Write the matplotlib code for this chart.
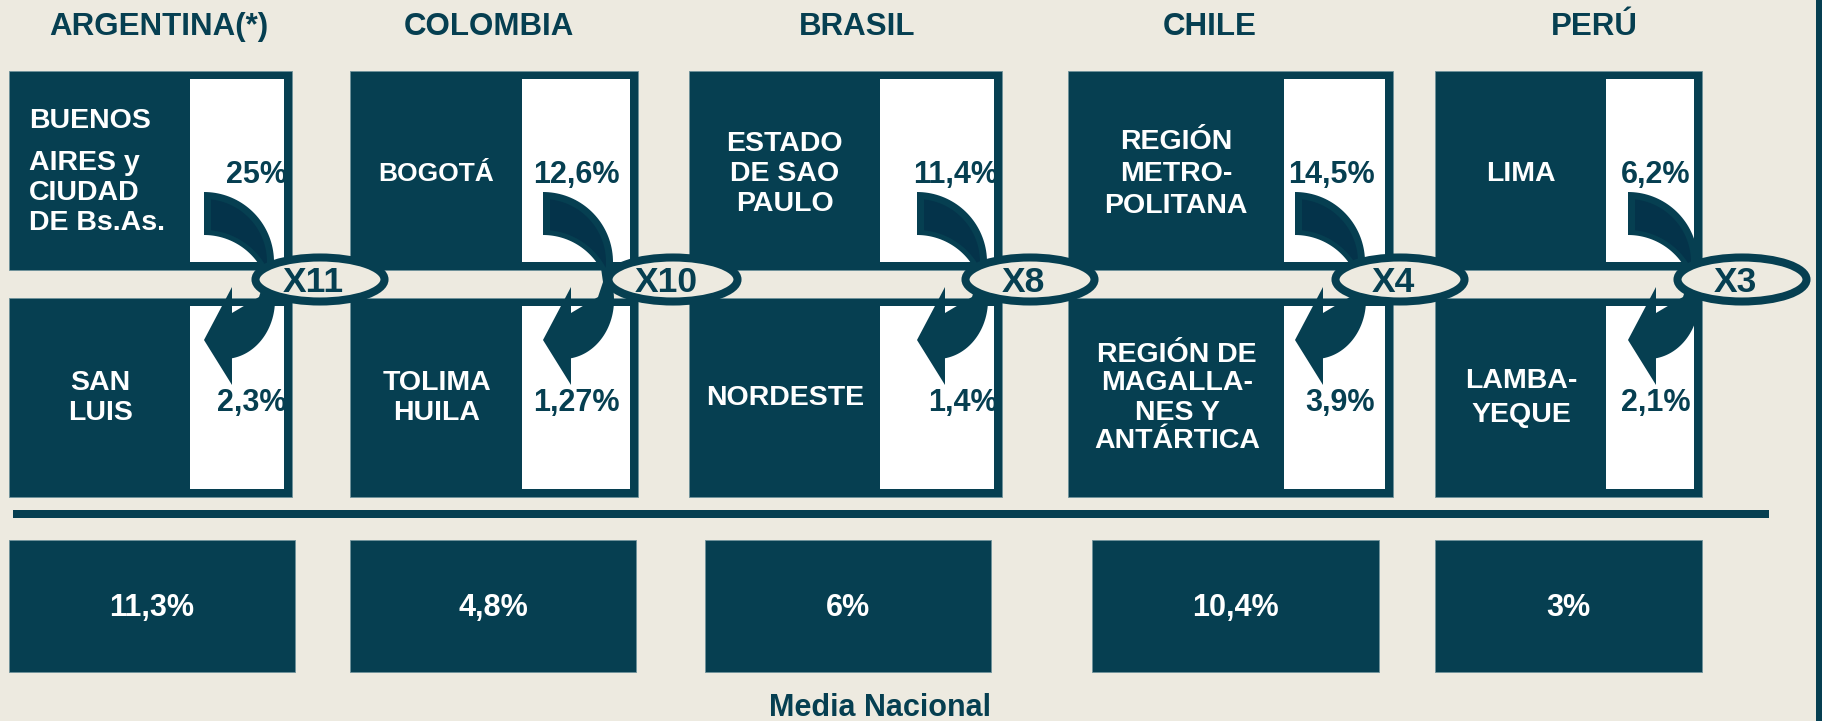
import matplotlib.pyplot as plt
from matplotlib.patches import Rectangle, Ellipse, Polygon
import numpy as np

plt.rcParams['font.family'] = ['Liberation Sans', 'DejaVu Sans']

# data
countries = ['ARGENTINA(*)', 'COLOMBIA', 'BRASIL', 'CHILE', 'PERÚ']
top_regions = ['BUENOS\nAIRES y\nCIUDAD\nDE Bs.As.', 'BOGOTÁ', 'ESTADO\nDE SAO\nPAULO',
               'REGIÓN\nMETRO-\nPOLITANA', 'LIMA']
bottom_regions = ['SAN\nLUIS', 'TOLIMA\nHUILA', 'NORDESTE',
                  'REGIÓN DE\nMAGALLA-\nNES Y\nANTÁRTICA', 'LAMBA-\nYEQUE']
top_values = [25, 12.6, 11.4, 14.5, 6.2]
bottom_values = [2.3, 1.27, 1.4, 3.9, 2.1]
ratios = [11, 10, 8, 4, 3]
national = [11.3, 4.8, 6, 10.4, 3]

# layout (pixels of the 1822x721 canvas)
block_left = [9, 350, 689, 1068, 1435]
block_right = [292, 638, 1002, 1393, 1702]
white_left = [190, 522, 880, 1284, 1606]
arrow_left = [204, 543, 917, 1295, 1628]
ellipse_x = [320, 673, 1030, 1400, 1742]
value_right = [287, 620, 998, 1375, 1690]
title_x = [159, 489, 857, 1210, 1594]
nat_left = [9, 350, 705, 1092, 1435]
nat_right = [295, 636, 991, 1379, 1702]
top_ls = [1.2, 1.2, 1.18, 1.3, 1.2]
bot_ls = [1.2, 1.2, 1.2, 1.15, 1.42]
top_size = [20.5, 19, 20.5, 20.5, 20.5]

DARK = '#063f51'
DARKER = '#04334a'
BG = '#edeae0'
EDGE = '#6f929b'


def pct(v):
    return f'{v:g}'.replace('.', ',') + '%'


def txt(x, y, s, **kw):
    # y is the visual centre of the capitals; matplotlib centres on the full box
    ax.text(x, y + 3, s, va='center', fontweight='bold', **kw)


def arrow_shape(x0):
    t1 = np.radians(np.linspace(-90, 0, 40))
    outer_up = np.c_[x0 + 70 * np.cos(t1), 262 + 70 * np.sin(t1)]
    t2 = np.radians(np.linspace(-10, 81, 40))
    outer_dn = np.c_[x0 + 20 + 51 * np.cos(t2), 300 + 59 * np.sin(t2)]
    head = np.array([(x0 + 28, 385), (x0, 340), (x0 + 28, 287),
                     (x0 + 28, 313), (x0 + 55, 297), (x0 + 60, 282)])
    t3 = np.radians(np.linspace(-28, -90, 40))
    inner_up = np.c_[x0 + 66 * np.cos(t3), 301 + 66 * np.sin(t3)]
    return np.vstack([outer_up, outer_dn, head, inner_up])


def arrow_shade(x0):
    t1 = np.radians(np.linspace(-83.6, 5.3, 40))
    outer = np.c_[x0 + 63 * np.cos(t1), 262 + 63 * np.sin(t1)]
    t2 = np.radians(np.linspace(-27.9, -84.3, 40))
    inner = np.c_[x0 + 71 * np.cos(t2), 301 + 71 * np.sin(t2)]
    return np.vstack([outer, inner])


fig = plt.figure(figsize=(18.22, 7.21), dpi=100, facecolor=BG)
ax = fig.add_axes([0, 0, 1, 1])
ax.set_xlim(0, 1822)
ax.set_ylim(721, 0)
ax.axis('off')

for i in range(len(countries)):
    bl, br, wl = block_left[i], block_right[i], white_left[i]
    txt(title_x[i], 24, countries[i], ha='center', fontsize=22.5, color=DARK)

    for (top, bot) in [(71, 270), (298, 497)]:
        ax.add_patch(Rectangle((bl, top), br - bl, bot - top, facecolor=DARK,
                               edgecolor=EDGE, lw=0.6, zorder=1))
        ax.add_patch(Rectangle((wl, top + 8), br - 8 - wl, bot - top - 16,
                               facecolor='white', edgecolor='none', zorder=2))

    # region names
    if i == 0:
        first, rest = top_regions[i].split('\n', 1)
        txt(29, 118, first, ha='left', fontsize=top_size[i], color='white', zorder=3)
        txt(29, 190, rest, ha='left', fontsize=top_size[i], color='white',
            linespacing=top_ls[i], zorder=3)
    else:
        txt((bl + wl) / 2, 171, top_regions[i], ha='center', fontsize=top_size[i],
            color='white', linespacing=top_ls[i], multialignment='center', zorder=3)
    txt((bl + wl) / 2 + 1, 395, bottom_regions[i], ha='center', fontsize=20.5,
        color='white', linespacing=bot_ls[i], multialignment='center', zorder=3)

    # regional values
    txt(value_right[i], 172, pct(top_values[i]), ha='right', fontsize=22, color=DARK, zorder=3)
    txt(value_right[i], 400, pct(bottom_values[i]), ha='right', fontsize=22, color=DARK, zorder=3)

    # curved arrow + ratio bubble
    x0 = arrow_left[i]
    ax.add_patch(Polygon(arrow_shape(x0), closed=True, facecolor=DARK, edgecolor='none', zorder=4))
    ax.add_patch(Polygon(arrow_shade(x0), closed=True, facecolor=DARKER, edgecolor='none', zorder=4))
    ax.add_patch(Ellipse((ellipse_x[i], 279.5), 129, 44, facecolor=BG, edgecolor=DARK,
                         lw=5.8, zorder=5))
    txt(ellipse_x[i] - 7, 279, f'X{ratios[i]}', ha='center', fontsize=25.5, color=DARK, zorder=6)

    # national average
    ax.add_patch(Rectangle((nat_left[i], 540), nat_right[i] - nat_left[i], 132,
                           facecolor=DARK, edgecolor=EDGE, lw=0.6, zorder=1))
    txt((nat_left[i] + nat_right[i]) / 2, 605, pct(national[i]), ha='center',
        fontsize=22, color='white', zorder=3)

ax.add_patch(Rectangle((13, 510), 1756, 8, facecolor=DARK, edgecolor='none'))
ax.add_patch(Rectangle((1816, 0), 6, 721, facecolor=DARK, edgecolor='none'))
txt(880, 705, 'Media Nacional', ha='center', fontsize=22, color=DARK)

fig.savefig('out.png', dpi=100, facecolor=BG)
